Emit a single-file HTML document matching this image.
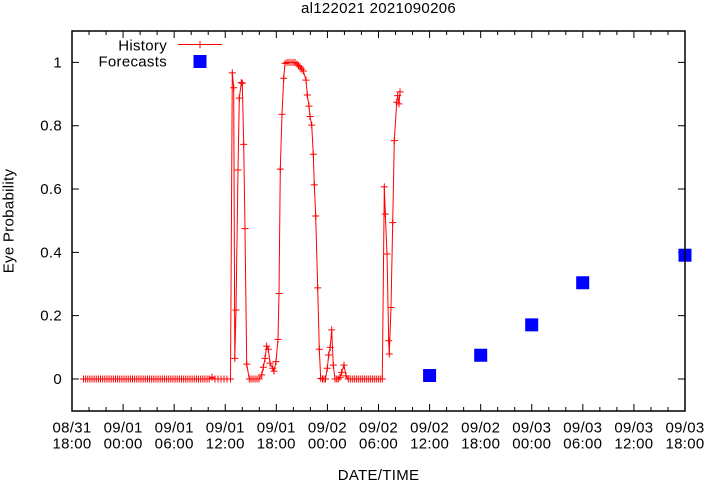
<!DOCTYPE html>
<html>
<head>
<meta charset="utf-8">
<style>
html,body{margin:0;padding:0;background:#fff;}
svg{display:block;}
text{font-family:"Liberation Sans",sans-serif;font-size:15px;letter-spacing:0.3px;fill:#000;}
</style>
</head>
<body>
<svg id="c" width="705" height="482" viewBox="0 0 705 482" xmlns="http://www.w3.org/2000/svg">
<rect x="0" y="0" width="705" height="482" fill="#fff"/>
<text x="378.5" y="13" text-anchor="middle">al122021 2021090206</text>
<g id="ticks" stroke="#000" stroke-width="1"></g>
<g id="hist"></g>
<g id="fc" fill="#0000ff"></g>
<rect x="72" y="31" width="613" height="380" fill="none" stroke="#000" stroke-width="1.5"/>
<!-- y labels -->
<g text-anchor="end">
<text x="62" y="384">0</text>
<text x="62" y="320.7">0.2</text>
<text x="62" y="257.4">0.4</text>
<text x="62" y="194">0.6</text>
<text x="62" y="130.7">0.8</text>
<text x="62" y="67.5">1</text>
</g>
<text transform="translate(13.5,221) rotate(-90)" text-anchor="middle">Eye Probability</text>
<!-- x labels -->
<g id="xl" text-anchor="middle"></g>
<text x="378.5" y="480" text-anchor="middle">DATE/TIME</text>
<!-- legend -->
<text x="167" y="50.5" text-anchor="end">History</text>
<line x1="178" y1="44.5" x2="222" y2="44.5" stroke="#ff0000" stroke-width="1"/>
<path d="M196.5 44.5h7M200 41v7" stroke="#ff0000" stroke-width="1"/>
<text x="167" y="66.5" text-anchor="end">Forecasts</text>
<rect x="193.5" y="55" width="13" height="13" fill="#0000ff"/>
</svg>
<script>
(function(){
var NS="http://www.w3.org/2000/svg";
function el(tag,attrs,parent,txt){var e=document.createElementNS(NS,tag);for(var k in attrs)e.setAttribute(k,attrs[k]);if(txt!==undefined)e.textContent=txt;parent.appendChild(e);return e;}
var L=72,R=685,T=31,B=411;
var step=(R-L)/36;
var tg=document.getElementById('ticks');
var d="";
for(var i=0;i<=36;i++){
  var x=L+i*step; var len=(i%3===0)?7:4;
  d+="M"+x.toFixed(2)+" "+B+"v"+(-len)+"M"+x.toFixed(2)+" "+T+"v"+len;
}
function yv(v){return 379-316.6*v;}
for(var j=0;j<=5;j++){
  var y=yv(j*0.2);
  d+="M"+L+" "+y.toFixed(2)+"h7M"+R+" "+y.toFixed(2)+"h-7";
}
el('path',{d:d,fill:'none'},tg);
// x labels
var l1=["08/31","09/01","09/01","09/01","09/01","09/02","09/02","09/02","09/02","09/03","09/03","09/03","09/03"];
var l2=["18:00","00:00","06:00","12:00","18:00","00:00","06:00","12:00","18:00","00:00","06:00","12:00","18:00"];
var xl=document.getElementById('xl');
for(var k=0;k<13;k++){
  var x=L+k*step*3;
  el('text',{x:x.toFixed(1),y:432.5},xl,l1[k]);
  el('text',{x:x.toFixed(1),y:448.5},xl,l2[k]);
}
// history data
var pts=[];
for(var x=83.5;x<=210.5;x+=2.13)pts.push([x,0]);
pts.push([212,0.006]);
[215,218,221,224,227,230.5].forEach(function(x){pts.push([x,0]);});
var mid=[[232.3,0.967],[233.7,0.92],[234.8,0.065],[236,0.218],[238,0.66],[239.3,0.887],[241.3,0.936],[242.3,0.934],[243.7,0.741],[245,0.475],[246.7,0.047],[249.3,0],[251,0],[253,0],[255,0],[257,0],[259,0],[261.7,0.013],[263.3,0.037],[265,0.065],[266.7,0.104],[268.3,0.094],[270,0.05],[272.7,0.034],[274,0.025],[276,0.055],[278,0.125],[279,0.27],[280.3,0.663],[282,0.836],[283.7,0.95],[285,0.997],[287,1],[289,1],[291,1],[293,1],[295,1],[297,0.995],[298.5,0.99],[300,0.986],[301.7,0.979],[303.3,0.973],[306,0.944],[307.3,0.897],[309,0.862],[310,0.829],[311.7,0.802],[313.3,0.71],[314.3,0.613],[315.7,0.515],[317.7,0.288],[319.3,0.094],[320.7,0.002],[322.5,0],[324,0],[325.5,0],[327.3,0.034],[328.7,0.076],[330.2,0.1],[331.7,0.155],[333.3,0.044],[335,0],[336.7,0],[338.3,0],[340,0.005],[341.7,0.021],[344,0.044],[346,0.01]];
pts=pts.concat(mid);
for(var x=348.3;x<=383.4;x+=2)pts.push([x,0]);
pts=pts.concat([[384.3,0.607],[385.3,0.521],[387,0.395],[388.7,0.121],[389.3,0.079],[391,0.226],[392.7,0.494],[394.3,0.753],[396.7,0.874],[397.7,0.895],[399,0.869],[400,0.907]]);
var hg=document.getElementById('hist');
var pd="",cd="";
pts.forEach(function(p,i){
  var x=p[0],y=yv(p[1]);
  pd+=(i?"L":"M")+x.toFixed(2)+" "+y.toFixed(2);
  cd+="M"+(x-3.5).toFixed(2)+" "+y.toFixed(2)+"h7M"+x.toFixed(2)+" "+(y-3.5).toFixed(2)+"v7";
});
el('path',{d:pd,fill:'none',stroke:'#ff0000','stroke-width':1},hg);
el('path',{d:cd,fill:'none',stroke:'#ff0000','stroke-width':1},hg);
// forecasts
var fg=document.getElementById('fc');
[[429.6,0.011],[480.7,0.075],[531.7,0.171],[582.7,0.304],[685,0.391]].forEach(function(p){
  var y=yv(p[1]);
  el('rect',{x:(p[0]-6.5).toFixed(2),y:(y-6.5).toFixed(2),width:13,height:13},fg);
});
})();
</script>
</body>
</html>
